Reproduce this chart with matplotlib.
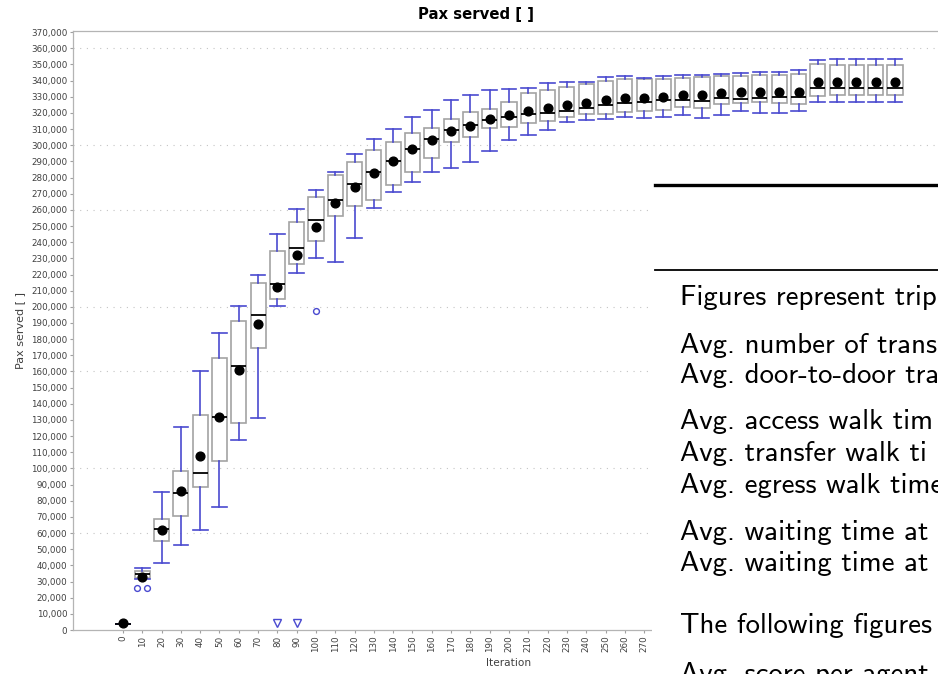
import numpy as np
import matplotlib.pyplot as plt
from matplotlib.patches import Rectangle
from matplotlib.lines import Line2D

# Pax served per iteration (box-and-whisker summary of all runs)
iterations = list(range(0, 410, 10))
whisker_low = [4000, 31500, 41400, 52900, 61800, 76000, 117400, 131000, 200600, 221000,
               230200, 227700, 242600, 261100, 271000, 277500, 283300, 286200, 289500, 296700,
               303300, 306400, 309500, 314200, 315500, 316500, 317700, 316700, 317700, 318500,
               316900, 318900, 321200, 320000, 320100, 321000, 326900, 326900, 326900, 326900,
               326900]
quart_1 = [4000, 31900, 54800, 70400, 88800, 104800, 127900, 174800, 205100, 226800,
           240500, 255900, 262300, 266200, 275300, 283500, 291800, 301700, 305000, 310500,
           311500, 313600, 315200, 317300, 319500, 319500, 320600, 321000, 322000, 323500,
           322900, 325300, 326000, 326600, 326100, 325300, 330300, 331100, 331100, 331100,
           331100]
medians = [4000, 34600, 62200, 85000, 97400, 131800, 163500, 194800, 213900, 236500,
           253900, 266000, 276100, 283500, 290100, 297500, 304100, 309500, 312800, 315500,
           317300, 319200, 320000, 321200, 322900, 324900, 326100, 326700, 327800, 328200,
           327600, 329000, 328600, 329200, 329600, 330100, 335700, 335400, 335400, 335400,
           335400]
quart_3 = [4000, 36800, 69000, 98400, 133000, 168400, 191500, 214700, 234300, 252400,
           267700, 281700, 289900, 296900, 302000, 307800, 310900, 316100, 320600, 322400,
           327000, 332100, 334200, 336200, 337700, 339500, 340800, 340800, 340800, 341400,
           342000, 342600, 343000, 343400, 343400, 343800, 350000, 349600, 349600, 349600,
           349600]
whisker_high = [4000, 38300, 85200, 125800, 160400, 184000, 200300, 219700, 245200, 260500,
                272400, 283700, 294500, 303700, 310300, 317300, 322000, 328200, 331100, 334000,
                334800, 335400, 338300, 339300, 338900, 342400, 343000, 341800, 342600, 343300,
                343600, 344300, 344500, 345100, 345100, 346700, 352900, 353100, 353100, 353100,
                353100]
means = [4100, 33100, 61700, 86000, 107500, 131800, 161200, 189400, 212300, 232000,
         249400, 264000, 274300, 282900, 290500, 297500, 303100, 308900, 312200, 316100,
         318900, 321000, 323100, 324900, 326300, 328000, 329000, 329500, 330100, 331300,
         330900, 332300, 332900, 332900, 333100, 333100, 339100, 339100, 339100, 339100,
         339000]
outliers = {10: [25700, 25700], 100: [197500]}
far_out_low = [80, 90]

# labelled iterations (the later ones sit under the report page)
labelled_iterations = list(range(0, 280, 10))

grid_levels = [60000, 100000, 160000, 200000, 260000, 300000, 360000]

whisker_blue = '#4a4ad0'
box_grey = '#a3a3a3'

fig = plt.figure(figsize=(9.38, 6.74), dpi=100)
W, H = 938, 674
ax = fig.add_axes([73 / W, 44 / H, 872 / W, 599.5 / H])

stats = []
for i, it in enumerate(iterations):
    stats.append(dict(whislo=whisker_low[i], q1=quart_1[i], med=medians[i],
                      q3=quart_3[i], whishi=whisker_high[i], mean=means[i],
                      fliers=[], label=str(it)))

ax.bxp(stats, positions=iterations, widths=7.8, capwidths=7.6,
       showmeans=True, showfliers=False, patch_artist=True, manage_ticks=False,
       boxprops=dict(facecolor='white', edgecolor=box_grey, linewidth=1.2),
       medianprops=dict(color='black', linewidth=1.3),
       whiskerprops=dict(color=whisker_blue, linewidth=1.2),
       capprops=dict(color=whisker_blue, linewidth=1.2),
       meanprops=dict(marker='o', markerfacecolor='black', markeredgecolor='black',
                      markersize=6.3))

# outliers: equal values are drawn side by side
for it, vals in outliers.items():
    n = len(vals)
    offs = (np.arange(n) - (n - 1) / 2) * 5.2
    ax.plot(np.array([it] * n) + offs, vals, linestyle='none', marker='o',
            markersize=4.2, markerfacecolor='none', markeredgecolor=whisker_blue,
            markeredgewidth=1.0, zorder=4)

# far-out indicators at the lower edge
ax.plot(far_out_low, [0.011] * len(far_out_low), linestyle='none', marker='v',
        markersize=5.5, markerfacecolor='none', markeredgecolor=whisker_blue,
        markeredgewidth=1.0, transform=ax.get_xaxis_transform(), clip_on=False)

for g in grid_levels:
    ax.axhline(g, color='#c4c4c4', linewidth=0.8, linestyle=(0, (1, 5)), zorder=0)

ax.set_xlim(-25.9, 425.9)
ax.set_ylim(0, 371000)
yt = list(range(0, 370001, 10000))
ax.set_yticks(yt)
ax.set_yticklabels([f'{v:,}' for v in yt])
ax.set_xticks(iterations)
ax.set_xticklabels([str(v) if v in labelled_iterations else '' for v in iterations],
                   rotation=90)
ax.tick_params(axis='both', length=2, width=0.8, color='#a0a0a0',
               labelsize=6.3, labelcolor='#404040', pad=2)

for s in ax.spines.values():
    s.set_color('#b4b4b4')
    s.set_linewidth(0.9)

ax.set_xlabel('Iteration', fontsize=7.6, color='#404040', labelpad=4)
ax.set_ylabel('Pax served [ ]', fontsize=8, color='#404040', labelpad=4)
fig.text(476 / W, 1 - 15 / H, 'Pax served [ ]', ha='center', va='center',
         fontsize=10.7, fontweight='bold')

# report page laid over the lower right part of the chart
x0 = 652
fig.patches.append(Rectangle((x0 / W, 0), (W - x0) / W, (H - 185) / H,
                             transform=fig.transFigure, facecolor='white',
                             edgecolor='none', zorder=5))
fig.lines.append(Line2D([655 / W, 1], [1 - 185 / H] * 2, transform=fig.transFigure,
                        color='black', linewidth=2.4, zorder=6))
fig.lines.append(Line2D([655 / W, 1], [1 - 269.5 / H] * 2, transform=fig.transFigure,
                        color='black', linewidth=1.3, zorder=6))

report_lines = [
    ('Figures represent trip', 305),
    ('Avg. number of trans', 352.7),
    ('Avg. door-to-door tra', 382.7),
    ('Avg. access walk tim', 429.3),
    ('Avg. transfer walk ti', 460.7),
    ('Avg. egress walk time', 493.3),
    ('Avg. waiting time at', 540),
    ('Avg. waiting time at', 571),
    ('The following figures', 633.3),
    ('Avg. score per agent', 681.7),
]
for txt, yb in report_lines:
    fig.text(680 / W, 1 - yb / H, txt, ha='left', va='baseline', fontsize=20.8,
             family='cmss10', color='black', zorder=7)

fig.savefig('out.png', dpi=100)
